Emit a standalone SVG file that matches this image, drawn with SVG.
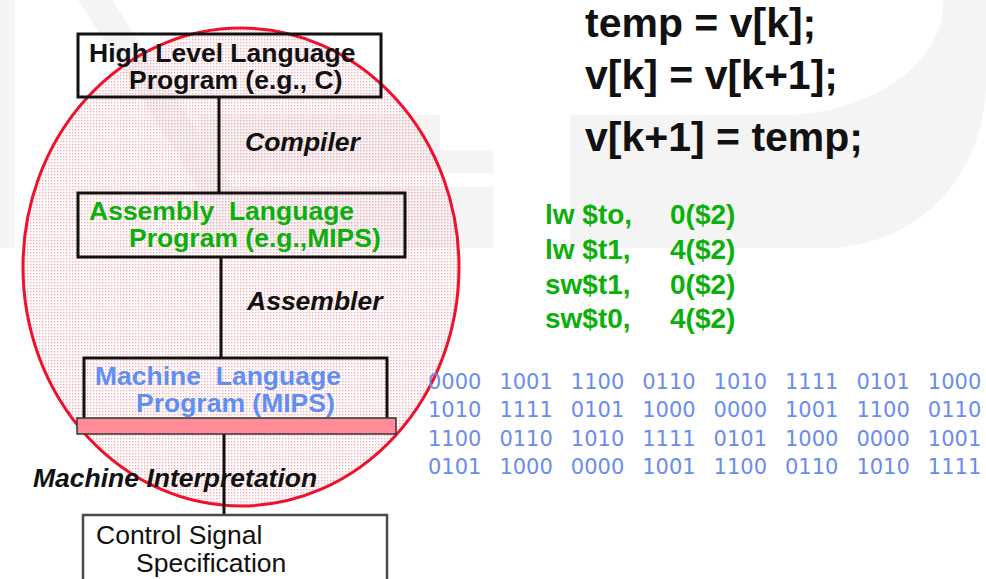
<svg xmlns="http://www.w3.org/2000/svg" width="986" height="579" viewBox="0 0 986 579">
<defs>
<pattern id="dots" x="0" y="0" width="3" height="3" patternUnits="userSpaceOnUse">
<rect x="0" y="0" width="1.4" height="1.4" fill="#f6aab4"/>
</pattern>
<style>
.wm{fill:#f4f4f4;stroke:none}
.box{fill:none;stroke:#111;stroke-width:3}
.conn{stroke:#111;stroke-width:3;fill:none}
.t{font-family:"Liberation Sans",Arial,sans-serif;font-size:26.5px;font-weight:bold}
.lbl{font-family:"Liberation Sans",Arial,sans-serif;font-size:26.5px;font-weight:bold;font-style:italic;fill:#111}
.reg{font-family:"Liberation Sans",Arial,sans-serif;font-size:26.5px;fill:#111}
.code{font-family:"Liberation Sans",Arial,sans-serif;font-size:41px;font-weight:bold;fill:#111}
.asm{font-family:"Liberation Sans",Arial,sans-serif;font-size:28px;font-weight:bold;fill:#0cb00c}
.bin{font-family:"DejaVu Sans",Verdana,sans-serif;font-size:21px;fill:#6a8cf0}
</style>
</defs>
<rect x="0" y="0" width="986" height="579" fill="#ffffff"/>
<g id="watermark">
<rect class="wm" x="0" y="0" width="15" height="248"/>
<polygon class="wm" points="78,0 112,0 235,190 200,190"/>
<path class="wm" d="M200,115 L440,115 L440,150 L493,150 L493,173 L200,173 Z"/>
<rect class="wm" x="200" y="187" width="293" height="61"/>
<path class="wm" d="M570,248 L570,115 L790,115 C880,110 945,60 943,0 L986,0 L986,90 C980,190 905,246 830,248 Z"/>
</g>
<g id="scope">
<ellipse cx="241" cy="267" rx="218" ry="239" fill="url(#dots)" stroke="#f0102c" stroke-width="3"/>
</g>
<g id="connectors">
<line class="conn" x1="219" y1="97" x2="219" y2="193"/>
<line class="conn" x1="221" y1="257" x2="221" y2="358"/>
<line class="conn" x1="224" y1="434" x2="224" y2="515"/>
</g>
<g id="hll">
<rect class="box" x="78" y="34" width="303" height="63"/>
<text class="t" x="89" y="62" fill="#111">High Level Language</text>
<text class="t" x="129" y="89" fill="#111">Program (e.g., C)</text>
</g>
<text id="compiler" class="lbl" x="245" y="151">Compiler</text>
<g id="asm">
<rect class="box" x="78" y="193" width="327" height="64"/>
<text class="t" x="89" y="220" fill="#0cb00c" xml:space="preserve">Assembly  Language</text>
<text class="t" x="129" y="247" fill="#0cb00c">Program (e.g.,MIPS)</text>
</g>
<text id="assembler" class="lbl" x="247" y="310">Assembler</text>
<g id="mach">
<rect class="box" x="84" y="358" width="303" height="62"/>
<rect x="77" y="418" width="319" height="16" fill="#ff8c96" stroke="#333" stroke-width="1.5"/>
<text class="t" x="95" y="385" fill="#5f8ff2" xml:space="preserve">Machine  Language</text>
<text class="t" x="136" y="412" fill="#5f8ff2">Program (MIPS)</text>
</g>
<text id="interp" class="lbl" x="33" y="487">Machine Interpretation</text>
<g id="ctrl">
<rect x="83" y="515" width="304" height="80" fill="#ffffff" stroke="#4a4a4a" stroke-width="2.5"/>
<text class="reg" x="96" y="544">Control Signal</text>
<text class="reg" x="136" y="572">Specification</text>
</g>
<g id="ccode">
<text class="code" x="585" y="37">temp = v[k];</text>
<text class="code" x="585" y="89">v[k] = v[k+1];</text>
<text class="code" x="585" y="151">v[k+1] = temp;</text>
</g>
<g id="asmcode">
<text class="asm" x="545" y="224">lw $to,</text><text class="asm" x="670" y="224">0($2)</text>
<text class="asm" x="545" y="259">lw $t1,</text><text class="asm" x="670" y="259">4($2)</text>
<text class="asm" x="545" y="294">sw$t1,</text><text class="asm" x="670" y="294">0($2)</text>
<text class="asm" x="545" y="328">sw$t0,</text><text class="asm" x="670" y="328">4($2)</text>
</g>
<g id="binary">
<text class="bin" y="389"><tspan x="428">0000</tspan><tspan x="499.4">1001</tspan><tspan x="570.8">1100</tspan><tspan x="642.2">0110</tspan><tspan x="713.6">1010</tspan><tspan x="785">1111</tspan><tspan x="856.4">0101</tspan><tspan x="927.8">1000</tspan></text>
<text class="bin" y="417"><tspan x="428">1010</tspan><tspan x="499.4">1111</tspan><tspan x="570.8">0101</tspan><tspan x="642.2">1000</tspan><tspan x="713.6">0000</tspan><tspan x="785">1001</tspan><tspan x="856.4">1100</tspan><tspan x="927.8">0110</tspan></text>
<text class="bin" y="446"><tspan x="428">1100</tspan><tspan x="499.4">0110</tspan><tspan x="570.8">1010</tspan><tspan x="642.2">1111</tspan><tspan x="713.6">0101</tspan><tspan x="785">1000</tspan><tspan x="856.4">0000</tspan><tspan x="927.8">1001</tspan></text>
<text class="bin" y="474"><tspan x="428">0101</tspan><tspan x="499.4">1000</tspan><tspan x="570.8">0000</tspan><tspan x="642.2">1001</tspan><tspan x="713.6">1100</tspan><tspan x="785">0110</tspan><tspan x="856.4">1010</tspan><tspan x="927.8">1111</tspan></text>
</g>
</svg>
